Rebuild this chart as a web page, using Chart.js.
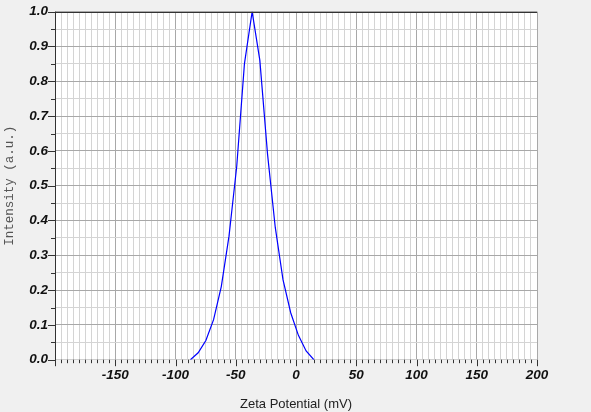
<!DOCTYPE html>
<html>
<head>
<meta charset="utf-8">
<script src="https://cdn.jsdelivr.net/npm/chart.js@4"></script>
<style>
  html, body { margin: 0; padding: 0; background: #f0f0f0; }
  #wrap { width: 591px; height: 412px; }
</style>
</head>
<body>
<div id="wrap"><canvas id="c" width="591" height="412"></canvas></div>
<script>
// Data
const zetaPotential = [-87.6, -81.2, -74.8, -68.4, -62.0, -55.6, -49.2, -42.8, -36.4, -30.0, -23.6, -17.2, -10.8, -4.4, 2.0, 8.4, 14.8];
const intensity     = [0.0, 0.02, 0.055, 0.115, 0.21, 0.355, 0.555, 0.85, 1.0, 0.86, 0.59, 0.38, 0.23, 0.135, 0.07, 0.025, 0.0];
const xTickLabels = [-150, -100, -50, 0, 50, 100, 150, 200];
const yTickLabels = [0.0, 0.1, 0.2, 0.3, 0.4, 0.5, 0.6, 0.7, 0.8, 0.9, 1.0];

const points = zetaPotential.map((x, i) => ({ x: x, y: intensity[i] }));

const isXMajor = v => Math.abs(v % 50) < 1e-6;
const isYMajor = v => Math.abs(Math.round(v * 100) % 10) === 0;

const framePlugin = {
  id: 'frame',
  beforeDraw(chart) {
    const { ctx, chartArea: a } = chart;
    ctx.save();
    ctx.fillStyle = '#f0f0f0';
    ctx.fillRect(0, 0, chart.width, chart.height);
    ctx.fillStyle = '#ffffff';
    ctx.fillRect(a.left, a.top, a.right - a.left, a.bottom - a.top);
    ctx.restore();
  },
  afterDraw(chart) {
    const { ctx, chartArea: a, scales } = chart;
    const xs = scales.x, ys = scales.y;
    ctx.save();
    ctx.strokeStyle = '#333333';
    ctx.lineWidth = 1;
    ctx.beginPath();
    ctx.moveTo(a.left, Math.round(a.top) + 0.5);
    ctx.lineTo(a.right, Math.round(a.top) + 0.5);
    const lx = Math.round(a.left) + 0.5;
    ctx.moveTo(lx, a.top);
    ctx.lineTo(lx, a.bottom + 6);
    ctx.stroke();
    ctx.beginPath();
    xs.ticks.forEach(t => {
      const px = Math.round(xs.getPixelForValue(t.value)) + 0.5;
      const len = isXMajor(t.value) ? 6.5 : 3.5;
      ctx.moveTo(px, a.bottom);
      ctx.lineTo(px, a.bottom + len);
    });
    ys.ticks.forEach(t => {
      const py = Math.round(ys.getPixelForValue(t.value)) + 0.5;
      const len = isYMajor(t.value) ? 7 : 4;
      ctx.moveTo(a.left - len, py);
      ctx.lineTo(a.left, py);
    });
    ctx.stroke();
    ctx.restore();
  }
};

new Chart(document.getElementById('c'), {
  type: 'line',
  data: {
    datasets: [{
      data: points,
      borderColor: '#0000ff',
      borderWidth: 1.2,
      pointRadius: 0,
      tension: 0,
      fill: false
    }]
  },
  options: {
    responsive: false,
    animation: false,
    events: [],
    layout: { padding: { top: 11.7, right: 54, left: 0, bottom: 0 } },
    plugins: { legend: { display: false }, tooltip: { enabled: false } },
    scales: {
      x: {
        type: 'linear',
        min: -200,
        max: 200,
        afterFit(s) { s.height = 52.3; s.paddingLeft = 0; s.paddingRight = 0; },
        border: { display: true, color: '#d0d0d0' },
        grid: {
          drawTicks: false,
          color: c => isXMajor(c.tick.value) ? '#a8a8a8' : '#d4d4d4',
          lineWidth: 1
        },
        ticks: {
          stepSize: 5,
          autoSkip: false,
          maxRotation: 0,
          padding: 7.5,
          color: '#111111',
          font: { family: 'Liberation Sans, Arial, sans-serif', size: 13.5, weight: 'bold', style: 'italic' },
          callback: v => (isXMajor(v) && xTickLabels.includes(v)) ? String(v) : ''
        },
        title: {
          display: true,
          text: 'Zeta Potential (mV)',
          color: '#222222',
          font: { family: 'Liberation Sans, Arial, sans-serif', size: 13 },
          padding: { top: 0, bottom: 0 }
        }
      },
      y: {
        type: 'linear',
        min: 0,
        max: 1,
        afterFit(s) { s.width = 55; s.paddingTop = 0; s.paddingBottom = 0; },
        border: { display: false },
        grid: {
          drawTicks: false,
          color: c => isYMajor(c.tick.value) ? '#a8a8a8' : '#d4d4d4',
          lineWidth: 1
        },
        ticks: {
          stepSize: 0.05,
          autoSkip: false,
          padding: 7,
          color: '#111111',
          font: { family: 'Liberation Sans, Arial, sans-serif', size: 13.5, weight: 'bold', style: 'italic' },
          callback: v => {
            if (!isYMajor(v)) return '';
            const r = Math.round(v * 10) / 10;
            return yTickLabels.includes(r) ? r.toFixed(1) : '';
          }
        },
        title: {
          display: true,
          text: 'Intensity (a.u.)',
          color: '#555555',
          font: { family: 'Liberation Mono, Courier New, monospace', size: 12.5 },
          padding: { top: 2, bottom: 0 }
        }
      }
    }
  },
  plugins: [framePlugin]
});
</script>
</body>
</html>
